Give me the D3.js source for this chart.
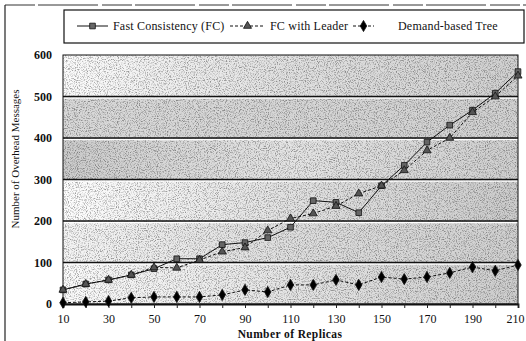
<!DOCTYPE html>
<html>
<head>
<meta charset="utf-8">
<script src="https://cdn.jsdelivr.net/npm/d3@7"></script>
<style>
  body { margin: 0; background: #fff; }
  text { font-family: 'Liberation Serif', 'Times New Roman', serif; fill: #111; }
</style>
</head>
<body>
<div id="chart"></div>
<script>
// data
var replicas = [10, 20, 30, 40, 50, 60, 70, 80, 90, 100, 110, 120, 130, 140, 150, 160, 170, 180, 190, 200, 210];
var fastConsistency = [34, 48, 58, 70, 85, 109, 109, 143, 148, 160, 185, 249, 245, 220, 285, 334, 390, 431, 467, 508, 560];
var fcLeader = [34, 48, 58, 70, 88, 87, 106, 126, 136, 177, 206, 218, 236, 266, 285, 322, 370, 400, 462, 500, 550];
var demandTree = [3, 5, 7, 15, 17, 17, 17, 22, 34, 29, 46, 46, 58, 46, 65, 60, 65, 75, 89, 80, 94];
var yTicks = [0, 100, 200, 300, 400, 500, 600];
var xTickLabels = [10, 30, 50, 70, 90, 110, 130, 150, 170, 190, 210];
var seriesNames = ["Fast Consistency (FC)", "FC with Leader", "Demand-based Tree"];

var W = 526, H = 341;
var margin = {top: 55, right: 8, bottom: 37, left: 63},
    width = W - margin.left - margin.right,
    height = H - margin.top - margin.bottom;
var serif = "'Liberation Serif', 'Times New Roman', serif";

var root = d3.select("#chart").append("svg")
    .attr("width", W)
    .attr("height", H);

var defs = root.append("defs");

// grainy texture like the scanned figure
var f = defs.append("filter").attr("id", "grain")
    .attr("x", 0).attr("y", 0).attr("width", 1).attr("height", 1);
f.append("feTurbulence").attr("type", "fractalNoise").attr("baseFrequency", 0.9)
    .attr("numOctaves", 2).attr("seed", 3).attr("result", "n");
f.append("feColorMatrix").attr("type", "matrix")
    .attr("values", "0 0 0 0 0  0 0 0 0 0  0 0 0 0 0  0 0 0 -3 1.6");

// band shading between gridlines (left -> right)
var bandStops = [
    ["#fafafa", "#e4e4e4", "#cdcdcd"],
    ["#f4f4f4", "#dedede", "#cfcfcf"],
    ["#fdfdfd", "#e2e2e2", "#cbcbcb"],
    ["#cbcbcb", "#e4e4e4", "#cfcfcf"],
    ["#d8d8d8", "#d6d6d6", "#d1d1d1"],
    ["#fbfbfb", "#e0e0e0", "#d0d0d0"]
];
bandStops.forEach(function(s, i) {
    var g = defs.append("linearGradient").attr("id", "band" + i);
    g.append("stop").attr("offset", "0%").attr("stop-color", s[0]);
    g.append("stop").attr("offset", "50%").attr("stop-color", s[1]);
    g.append("stop").attr("offset", "100%").attr("stop-color", s[2]);
});

// outer frame (partial, like the scan)
root.append("line").attr("x1", 5).attr("y1", 5).attr("x2", W).attr("y2", 5)
    .attr("stroke", "#333").attr("stroke-width", 1).attr("stroke-dasharray", "30,3,60,4");
root.append("line").attr("x1", 5).attr("y1", 5).attr("x2", 5).attr("y2", H)
    .attr("stroke", "#222").attr("stroke-width", 1.2);

var svg = root.append("g")
    .attr("transform", "translate(" + margin.left + "," + margin.top + ")");

var x = d3.scaleLinear().domain([10, 210]).range([0, width]);
var y = d3.scaleLinear().domain([0, 600]).range([height, 0]);

// background bands
svg.append("g").selectAll("rect")
    .data(d3.range(yTicks.length - 1))
    .enter().append("rect")
    .attr("x", 0)
    .attr("y", function(i) { return y(yTicks[i + 1]); })
    .attr("width", width)
    .attr("height", function(i) { return y(yTicks[i]) - y(yTicks[i + 1]); })
    .attr("fill", function(i) { return "url(#band" + i + ")"; });

svg.append("rect")
    .attr("width", width).attr("height", height)
    .attr("fill", "#fff")
    .attr("filter", "url(#grain)")
    .attr("opacity", 0.38);

// gridlines: black with white edge
var grid = yTicks.slice(1, -1);
svg.append("g").selectAll("line.gw")
    .data(grid).enter().append("line")
    .attr("x1", 0).attr("x2", width)
    .attr("y1", function(d) { return y(d) + 1.5; })
    .attr("y2", function(d) { return y(d) + 1.5; })
    .attr("stroke", "#fff").attr("stroke-width", 1.5);
svg.append("g").selectAll("line.gb")
    .data(grid).enter().append("line")
    .attr("x1", 0).attr("x2", width)
    .attr("y1", function(d) { return y(d); })
    .attr("y2", function(d) { return y(d); })
    .attr("stroke", "#111").attr("stroke-width", 1.6);

// plot frame
svg.append("rect")
    .attr("width", width).attr("height", height)
    .attr("fill", "none").attr("stroke", "#111").attr("stroke-width", 1);

// x axis
var xAxis = svg.append("g")
    .attr("transform", "translate(0," + height + ")")
    .call(d3.axisBottom(x).tickValues(replicas).tickSize(4).tickPadding(6)
        .tickFormat(function(d) { return xTickLabels.indexOf(d) >= 0 ? d : ""; }));
xAxis.attr("font-family", serif);
xAxis.select(".domain").attr("stroke", "#111").attr("stroke-width", 1.8);
xAxis.selectAll(".tick line").attr("stroke", "#222");
xAxis.selectAll("text")
    .style("font-size", "12px")
    .style("font-family", serif);
xAxis.selectAll(".tick").filter(function(d) { return d === 210; })
    .select("text").attr("dx", -3);

// y axis
var yAxis = svg.append("g")
    .call(d3.axisLeft(y).tickValues(yTicks).tickSize(0).tickPadding(11));
yAxis.attr("font-family", serif);
yAxis.select(".domain").remove();
yAxis.selectAll("text")
    .style("font-size", "12px")
    .style("font-weight", "bold")
    .style("font-family", serif);

// axis titles
root.append("text")
    .attr("x", 290)
    .attr("y", 338)
    .attr("text-anchor", "middle")
    .style("font-size", "11.5px")
    .style("font-weight", "bold")
    .style("letter-spacing", "0.4px")
    .text("Number of Replicas");

root.append("text")
    .attr("transform", "translate(19,159) rotate(-90)")
    .attr("text-anchor", "middle")
    .style("font-size", "11px")
    .text("Number of Overhead Messages");

// lines and markers
var series = [
    {name: seriesNames[0], values: fastConsistency, dash: null, shape: d3.symbolSquare, fill: "#666", size: 32},
    {name: seriesNames[1], values: fcLeader, dash: "3,2", shape: d3.symbolTriangle, fill: "#555", size: 28},
    {name: seriesNames[2], values: demandTree, dash: "3,2", shape: d3.symbolDiamond, fill: "#000", size: 36}
];

var line = d3.line()
    .x(function(d, i) { return x(replicas[i]); })
    .y(function(d) { return y(d); });

series.forEach(function(s) {
    svg.append("path")
        .datum(s.values)
        .attr("d", line)
        .attr("fill", "none")
        .attr("stroke", "#111")
        .attr("stroke-width", 1)
        .attr("stroke-dasharray", s.dash);
});

series.forEach(function(s) {
    svg.append("g").selectAll("path")
        .data(s.values).enter().append("path")
        .attr("transform", function(d, i) { return "translate(" + x(replicas[i]) + "," + y(d) + ")"; })
        .attr("d", d3.symbol().type(s.shape).size(s.size))
        .attr("fill", s.fill)
        .attr("stroke", "#111")
        .attr("stroke-width", 0.8);
});

// legend
var legend = root.append("g");
legend.append("rect")
    .attr("x", 64).attr("y", 10).attr("width", 460).attr("height", 33)
    .attr("fill", "#fff").attr("stroke", "#111").attr("stroke-width", 1.2);

var legendPos = [
    {lx: 77, len: 31, tx: 113},
    {lx: 230, len: 35, tx: 270},
    {lx: 353, len: 21, tx: 398}
];
series.forEach(function(s, i) {
    var p = legendPos[i];
    legend.append("line")
        .attr("x1", p.lx).attr("x2", p.lx + p.len)
        .attr("y1", 26).attr("y2", 26)
        .attr("stroke", "#111").attr("stroke-width", 1)
        .attr("stroke-dasharray", s.dash);
    legend.append("path")
        .attr("transform", "translate(" + (p.lx + p.len / 2) + ",26)")
        .attr("d", d3.symbol().type(s.shape).size(s.size))
        .attr("fill", s.fill)
        .attr("stroke", "#111")
        .attr("stroke-width", 0.8);
    legend.append("text")
        .attr("x", p.tx).attr("y", 30)
        .style("font-size", "12px")
        .style("letter-spacing", "0.2px")
        .text(s.name);
});
</script>
</body>
</html>
